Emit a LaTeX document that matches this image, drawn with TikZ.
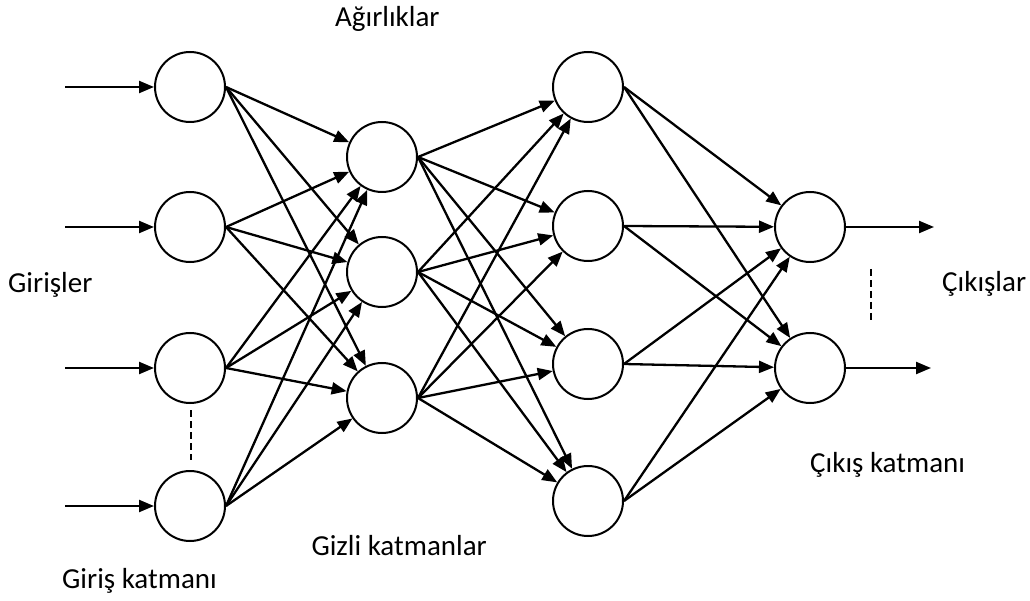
\documentclass[tikz,border=0pt]{standalone}
\usepackage{fontspec}
\setmainfont{Carlito}
\usetikzlibrary{arrows.meta}
\begin{document}
\begin{tikzpicture}[x=1pt,y=-1pt,
  neuron/.style={circle,draw,line width=2pt,minimum size=70pt,inner sep=0pt},
  conn/.style={line width=2.3pt,-{Triangle[length=15pt,width=12pt]}},
  dline/.style={line width=1.8pt,dash pattern=on 7pt off 4pt},
  lbl/.style={font=\fontsize{29}{33}\selectfont,inner sep=0pt}]
\useasboundingbox (0,0) rectangle (1030,601);
% input layer
\node[neuron] (i1) at (190,87) {};
\node[neuron] (i2) at (190,227) {};
\node[neuron] (i3) at (190,368) {};
\node[neuron] (i4) at (190,506) {};
% hidden 1
\node[neuron] (h1) at (382,157) {};
\node[neuron] (h2) at (382,272) {};
\node[neuron] (h3) at (382,398) {};
% hidden 2
\node[neuron] (g1) at (588,87) {};
\node[neuron] (g2) at (588,226) {};
\node[neuron] (g3) at (588,364) {};
\node[neuron] (g4) at (588,501) {};
% output
\node[neuron] (o1) at (810,227) {};
\node[neuron] (o2) at (810,368) {};
% input arrows
\coordinate (s1) at (65,87);
\coordinate (s2) at (65,227);
\coordinate (s3) at (65,368);
\coordinate (s4) at (65,506);
\foreach \n in {1,2,3,4} \draw[conn] (s\n) -- (i\n.west);
% connections
\foreach \a in {1,2,3,4} \foreach \b in {1,2,3} \draw[conn] (i\a.east) -- (h\b);
\foreach \a in {1,2,3} \foreach \b in {1,2,3,4} \draw[conn] (h\a.east) -- (g\b);
\foreach \a in {1,2,3,4} \foreach \b in {1,2} \draw[conn] (g\a.east) -- (o\b);
% output arrows
\coordinate (e1) at (934,227);
\coordinate (e2) at (931,368);
\draw[conn] (o1.east) -- (e1);
\draw[conn] (o2.east) -- (e2);
% dashed
\coordinate (da) at (191,410);
\coordinate (db) at (191,460);
\draw[dline] (da) -- (db);
\coordinate (dc) at (871,269);
\coordinate (dd) at (871,320);
\draw[dline] (dc) -- (dd);
% labels
\node[lbl,anchor=base west] (t1) at (335,27) {Ağırlıklar};
\node[lbl,anchor=base west] (t2) at (8,293) {Girişler};
\node[lbl,anchor=base east] (t3) at (487,555) {Gizli katmanlar};
\node[lbl,anchor=base west] (t4) at (62,588) {Giriş katmanı};
\node[lbl,anchor=base west] (t5) at (810,472) {Çıkış katmanı};
\node[lbl,anchor=base west] (t6) at (942,292) {Çıkışlar};
\end{tikzpicture}
\end{document}
